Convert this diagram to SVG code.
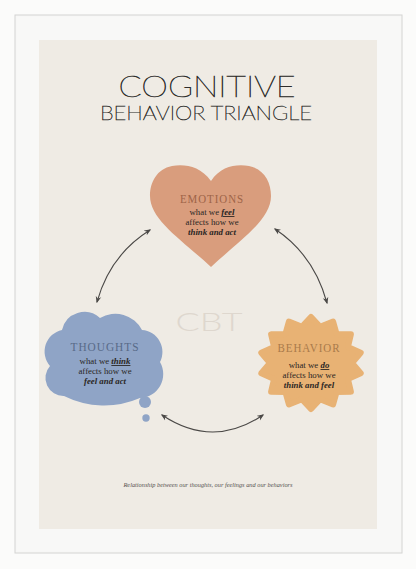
<svg xmlns="http://www.w3.org/2000/svg" width="416" height="569" viewBox="0 0 416 569">
<defs>
<style>
.title{font-family:"Lato","Open Sans",sans-serif;font-weight:200;fill:#2e2d2b;stroke:#2e2d2b;stroke-width:0.65;}
.label{font-family:"Liberation Serif","DejaVu Serif",serif;font-size:11.5px;letter-spacing:1px;text-anchor:middle;}
.body{font-family:"Liberation Serif","DejaVu Serif",serif;font-size:8.8px;fill:#2a2624;text-anchor:middle;}
.em{font-style:italic;font-weight:bold;}
.conn{fill:none;stroke:#4a4846;stroke-width:1.1;marker-start:url(#ah);marker-end:url(#ah);}
</style>
<marker id="ah" viewBox="0 0 10 10" refX="8" refY="5" markerWidth="7" markerHeight="7" orient="auto-start-reverse" markerUnits="userSpaceOnUse">
<path d="M0,1 L10,5 L0,9 L3,5 Z" fill="#4a4846"/>
</marker>
</defs>
<!-- frame -->
<rect x="0" y="0" width="416" height="569" fill="#fbfbfa"/>
<rect x="15" y="15" width="387" height="538" fill="#f7f7f6" stroke="#d4d4d2" stroke-width="1"/>
<rect x="17" y="17" width="383" height="534" fill="#f8f8f7"/>
<rect x="39" y="40" width="338" height="489" fill="#efebe4"/>

<!-- title -->
<text class="title" x="207" y="97" font-size="30.5" textLength="177" lengthAdjust="spacingAndGlyphs" text-anchor="middle">COGNITIVE</text>
<text class="title" x="206" y="120" font-size="19" textLength="212" lengthAdjust="spacingAndGlyphs" text-anchor="middle" style="stroke-width:0.5">BEHAVIOR TRIANGLE</text>

<!-- watermark -->
<text x="209" y="331" font-family="Lato,'Open Sans',sans-serif" font-weight="300" font-size="25" fill="#ded7ce" text-anchor="middle" textLength="67" lengthAdjust="spacingAndGlyphs">CBT</text>

<g id="connectors">
<path class="conn" d="M97,302 Q110,255 150,230"/>
<path class="conn" d="M275,229 Q314,255 327,303"/>
<path class="conn" d="M162,415 Q213,449 263,415"/>
</g>

<g id="emotions">
<path d="M211,181 C200,166 185,164 172,166 C157,169 150,182 150,196 C150,220 182,240 211,267 C240,240 271,220 271,196 C271,182 264,169 249,166 C236,164 221,166 211,181 Z" fill="#d99d7d"/>
<text class="label" x="212" y="203" fill="#9e6448" textLength="64" lengthAdjust="spacingAndGlyphs">EMOTIONS</text>
<text class="body" x="212" y="215">what we <tspan class="em" text-decoration="underline">feel</tspan></text>
<text class="body" x="212" y="225">affects how we</text>
<text class="body em" x="212" y="235">think and act</text>
</g>

<g id="thoughts">
<path d="M64,396 A18,18 0 0 1 50,366 A22,22 0 0 1 62,330 A23,23 0 0 1 100,318 A30,30 0 0 1 142,330 A22,22 0 0 1 160,362 A24,24 0 0 1 140,398 A90,90 0 0 1 64,396 Z" fill="#8fa4c6"/>
<circle cx="145" cy="402" r="6" fill="#8fa4c6"/>
<circle cx="146" cy="418" r="3.7" fill="#8fa4c6"/>
<text class="label" x="105" y="351" fill="#586a88" textLength="69" lengthAdjust="spacingAndGlyphs">THOUGHTS</text>
<text class="body" x="105" y="364">what we <tspan class="em" text-decoration="underline">think</tspan></text>
<text class="body" x="105" y="374">affects how we</text>
<text class="body em" x="105" y="384">feel and act</text>
</g>

<g id="behavior">
<polygon points="311,317 320.1,326.9 333.1,321.6 336.6,334.1 350.9,334.3 347.9,347 360.7,352.8 352,363 360.7,373.2 347.9,379 350.9,391.7 336.6,391.9 333.1,404.4 320.1,399.1 311,409 301.9,399.1 288.9,404.4 285.4,391.9 271.1,391.7 274.1,379 261.3,373.2 270,363 261.3,352.8 274.1,347 271.1,334.3 285.4,334.1 288.9,321.6 301.9,326.9" fill="#e8b274" stroke="#e8b274" stroke-width="6" stroke-linejoin="round"/>
<text class="label" x="309" y="352" fill="#a97a4b" textLength="63" lengthAdjust="spacingAndGlyphs">BEHAVIOR</text>
<text class="body" x="309" y="368">what we <tspan class="em" text-decoration="underline">do</tspan></text>
<text class="body" x="309" y="378">affects how we</text>
<text class="body em" x="309" y="388">think and feel</text>
</g>

<text x="208" y="487" font-family="'Liberation Serif',serif" font-style="italic" font-size="5.3" fill="#555250" text-anchor="middle" textLength="169" lengthAdjust="spacingAndGlyphs">Relationship between our thoughts, our feelings and our behaviors</text>
</svg>
